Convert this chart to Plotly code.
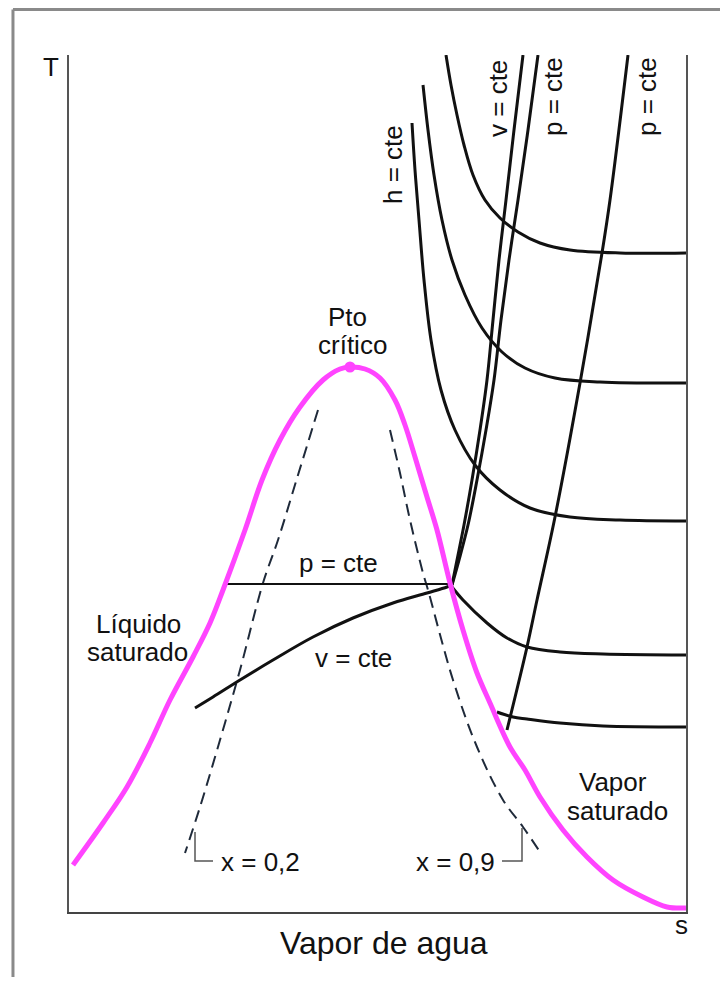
import plotly.graph_objects as go

# Saturation dome (entropy s, temperature T in arbitrary diagram units)
dome_s = [4, 34, 58, 81, 101, 124, 141, 154, 176, 193, 211, 231, 254, 271, 281,
          296, 311, 326, 336, 346, 358, 368, 381, 394, 408, 421, 441, 456, 471,
          494, 518, 544, 574, 598, 617]
dome_T = [47, 89, 125, 169, 212, 255, 289, 322, 382, 432, 472, 505, 532, 543, 545,
          543, 534, 512, 487, 455, 415, 382, 329, 282, 239, 209, 165, 142, 115,
          82, 55, 32, 15, 5, 4]
crit_s = [281]
crit_T = [545]

# Quality lines
x02_s = [249, 229, 209, 194, 171, 151, 131, 116]
x02_T = [502, 437, 372, 329, 242, 172, 105, 59]
x09_s = [321, 331, 341, 354, 359, 384, 408, 434, 454, 471]
x09_T = [482, 439, 392, 339, 322, 232, 165, 112, 85, 60]

# Isobar inside dome and isochore inside dome
p_in_s = [158, 382]
p_in_T = [328, 328]
v_in_s = [126, 144, 171, 204, 244, 284, 324, 358, 378, 383]
v_in_T = [204, 215, 232, 252, 275, 294, 309, 319, 325, 327]

# Superheated region: steep v = cte and p = cte
v_sup_s = [454, 445, 437, 430, 424, 418, 411, 403, 395, 388, 383]
v_sup_T = [857, 782, 712, 652, 592, 532, 482, 432, 387, 352, 327]
p_sup_s = [469, 459, 449, 440, 432, 425, 417, 408, 399, 390, 383]
p_sup_T = [857, 782, 712, 652, 592, 532, 482, 432, 387, 352, 327]
p2_s = [559, 541, 533, 511, 486, 468, 458, 438]
p2_T = [857, 712, 659, 529, 395, 312, 265, 182]

# Constant enthalpy curves
hA_s = [377, 382, 388, 395, 404, 416, 431, 449, 471, 501, 551, 617]
hA_T = [857, 827, 797, 767, 737, 712, 694, 680, 669, 662, 659, 659]
hB_s = [354, 359, 365, 373, 383, 396, 413, 433, 456, 486, 531, 617]
hB_T = [827, 782, 737, 692, 652, 617, 584, 560, 544, 534, 530, 529]
hC_s = [343, 346, 350, 355, 362, 372, 386, 406, 431, 461, 501, 551, 617]
hC_T = [789, 742, 692, 632, 572, 522, 482, 447, 422, 404, 395, 392, 391]
hD_s = [383, 394, 418, 438, 458, 491, 534, 617]
hD_T = [325, 312, 289, 274, 265, 260, 258, 257]
hE_s = [428, 444, 458, 491, 534, 617]
hE_T = [200, 195, 193, 189, 186, 185]

# Bracket leaders for quality labels
b02_s = [126, 126, 144]
b02_T = [80, 51, 51]
b09_s = [433, 453, 453]
b09_T = [51, 51, 84]

fig = go.Figure()

def line(xs, ys, color="#111111", width=3, dash=None, shape="spline"):
    fig.add_trace(go.Scatter(x=xs, y=ys, mode="lines",
                             line=dict(color=color, width=width, dash=dash, shape=shape),
                             hoverinfo="skip", showlegend=False))

DASH = "#1f2a3a"
line(x02_s, x02_T, DASH, 2, "12px,7px")
line(x09_s, x09_T, DASH, 2, "12px,7px")
line(b02_s, b02_T, "#555555", 1.5, None, "linear")
line(b09_s, b09_T, "#555555", 1.5, None, "linear")
line(p_in_s, p_in_T, "#111111", 1.8, None, "linear")
line(v_in_s, v_in_T, "#111111", 3)
line(v_sup_s, v_sup_T)
line(p_sup_s, p_sup_T)
line(p2_s, p2_T)
for xs, ys in [(hA_s, hA_T), (hB_s, hB_T), (hC_s, hC_T), (hD_s, hD_T), (hE_s, hE_T)]:
    line(xs, ys)
line(dome_s, dome_T, "#ff44ff", 5)
fig.add_trace(go.Scatter(x=crit_s, y=crit_T, mode="markers",
                         marker=dict(color="#ff44ff", size=11),
                         hoverinfo="skip", showlegend=False))

FONT = "Liberation Sans, Arial, sans-serif"

def txt(s, t, text, size=26, angle=0, ref="data"):
    kw = {}
    if ref == "paper":
        kw = dict(xref="paper", yref="paper")
    fig.add_annotation(x=s, y=t, text=text, showarrow=False, textangle=angle,
                       font=dict(family=FONT, size=size, color="#111111"),
                       xanchor="center", yanchor="middle", **kw)

txt(324, 747, "h = cte", angle=-90)
txt(429, 813, "v = cte", angle=-90)
txt(484, 815, "p = cte", angle=-90)
txt(578, 815, "p = cte", angle=-90)
txt(269, 349, "p = cte")
txt(284, 254, "v = cte")
txt(278, 595, "Pto")
txt(283, 567, "crítico")
txt(69, 288, "Líquido")
txt(68, 260, "saturado")
txt(544, 130, "Vapor")
txt(548, 101, "saturado")
txt(191, 50, "x = 0,2")
txt(386, 50, "x = 0,9")
txt(-0.0292, 0.986, "T", ref="paper")
txt(0.9919, -0.0152, "s", ref="paper")
txt(0.5105, -0.0362, "Vapor de agua", size=32, ref="paper")

# outer frame (only top and left edges visible)
fig.add_shape(type="line", xref="paper", yref="paper", x0=-0.0908, x1=-0.0908,
              y0=-0.2, y1=1.0531, line=dict(color="#8a8a8a", width=3))
fig.add_shape(type="line", xref="paper", yref="paper", x0=-0.0908, x1=1.2,
              y0=1.0531, y1=1.0531, line=dict(color="#8a8a8a", width=3))

fig.update_layout(
    width=712, height=969,
    margin=dict(l=61, r=34, t=47, b=65),
    paper_bgcolor="white", plot_bgcolor="white",
    xaxis=dict(range=[0, 617], showgrid=False, zeroline=False, showticklabels=False,
               ticks="", showline=True, linecolor="#444444", linewidth=2, fixedrange=True),
    yaxis=dict(range=[0, 857], showgrid=False, zeroline=False, showticklabels=False,
               ticks="", showline=True, linecolor="#555555", linewidth=2, mirror=True,
               fixedrange=True),
)

fig.write_html("out.html")
